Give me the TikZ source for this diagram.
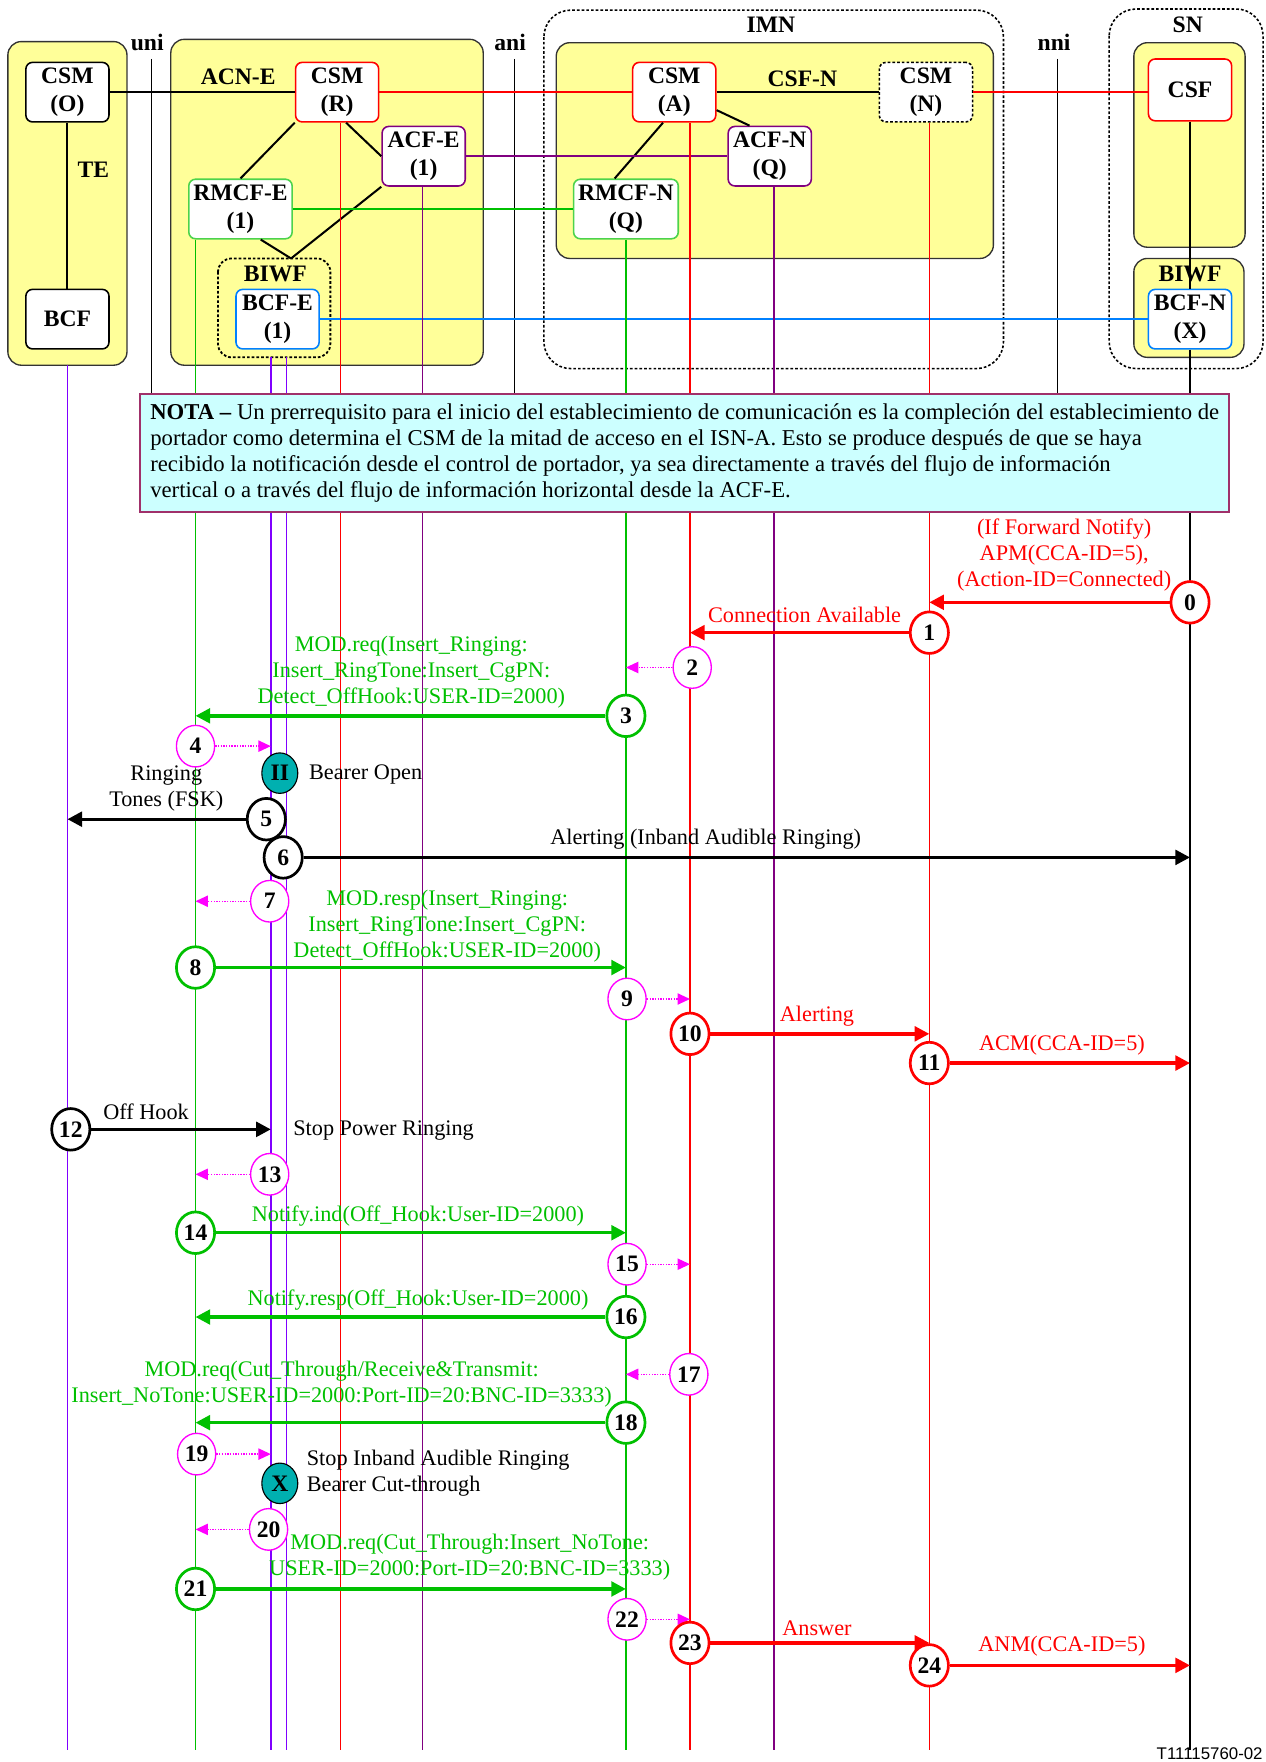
\documentclass[tikz,border=0pt]{standalone}
\usepackage{fontspec}
\setmainfont{Liberation Serif}
\setsansfont{Liberation Sans}
\usetikzlibrary{arrows.meta, shapes.geometric, calc}
\definecolor{flowRed}{HTML}{FF0000}
\definecolor{flowGreen}{HTML}{00C000}
\definecolor{flowViolet}{HTML}{8000FF}
\definecolor{flowPurple}{HTML}{800080}
\definecolor{flowBlue}{HTML}{0080FF}
\definecolor{flowPink}{HTML}{FF00FF}
\definecolor{zoneYellow}{HTML}{FFFF99}
\definecolor{notaFill}{HTML}{CCFFFF}
\definecolor{notaBorder}{HTML}{A0306A}
\definecolor{bearerTeal}{HTML}{00B0B0}

\begin{document}
\begin{tikzpicture}[x=0.5pt, y=-0.5pt,
    feBox/.style={draw, fill=white, rounded corners=3pt, line width=0.7pt,
      minimum width=37pt, minimum height=26.5pt, inner sep=2pt, align=center,
      font=\fontsize{10.5}{12.5}\selectfont\bfseries},
    zoneFill/.style={draw=black!80, fill=zoneYellow, line width=0.6pt, rounded corners=6pt},
    zoneDots/.style={draw, line width=0.7pt, dash pattern=on 1.2pt off 0.9pt, rounded corners=12pt},
    zoneTag/.style={font=\fontsize{10.5}{12.5}\selectfont\bfseries},
    linkLine/.style={line width=0.9pt},
    lifeLine/.style={line width=0.7pt},
    msgArrow/.style={line width=1.5pt, -{Triangle[length=6.5pt, width=6.5pt]}},
    hintArrow/.style={flowPink, line width=0.6pt, dash pattern=on 0.6pt off 0.6pt,
      -{Triangle[length=5.5pt, width=5pt]}},
    stepNum/.style={ellipse, draw, fill=white, line width=1.2pt, minimum width=17pt,
      minimum height=18.5pt, inner sep=0pt, font=\fontsize{10.5}{12}\selectfont\bfseries},
    hintNum/.style={stepNum, draw=flowPink, line width=0.6pt},
    msgText/.style={font=\fontsize{9.9}{11.5}\selectfont, align=center},
    bearerDot/.style={ellipse, draw, fill=bearerTeal, line width=0.5pt, minimum width=16pt,
      minimum height=18pt, inner sep=0pt, font=\fontsize{10.5}{12}\selectfont\bfseries}
  ]
  \useasboundingbox (0,0) rectangle (1126,1568);

  % Terminal equipment
  \draw[zoneFill] (7,37) rectangle (113,325);
  \node[zoneTag] (teTag) at (83,151) {TE};
  \node[feBox] (csmO) at (60,82) {CSM\\(O)};
  \node[feBox] (bcf) at (60,284) {BCF};
  \draw[linkLine] (csmO) -- (bcf);

  % Interfaces
  \node[zoneTag] (uni) at (131,38) {uni};
  \node[zoneTag] (ani) at (454,38) {ani};
  \node[zoneTag] (nni) at (938,38) {nni};
  \coordinate (uniEnd) at (135,350);
  \coordinate (aniEnd) at (458,350);
  \coordinate (nniEnd) at (941,350);
  \draw[lifeLine] (uniEnd |- uni.south) -- (uniEnd);
  \draw[lifeLine] (aniEnd |- ani.south) -- (aniEnd);
  \draw[lifeLine] (nniEnd |- nni.south) -- (nniEnd);

  % ACN-E
  \draw[zoneFill] (152,35) rectangle (430,325);
  \node[zoneTag] (acnTag) at (212,68) {ACN-E};
  \node[feBox, draw=flowRed] (csmR) at (300,82) {CSM\\(R)};
  \node[feBox, draw=flowPurple] (acfE) at (377,139) {ACF-E\\(1)};
  \node[feBox, draw=flowGreen!70] (rmcfE) at (214,186) {RMCF-E\\(1)};
  \draw[line width=0.8pt, dash pattern=on 1.2pt off 0.9pt, rounded corners=6pt] (194,230) rectangle (294,318);
  \node[zoneTag] (biwfETag) at (245,244) {BIWF};
  \node[feBox, draw=flowBlue] (bcfE) at (247,284) {BCF-E\\(1)};
  \coordinate (biwfJoin) at (259,230);
  \draw[linkLine] (csmO) -- (csmR);
  \draw[linkLine] (csmR.south west) -- (rmcfE.north);
  \draw[linkLine] ($(csmR.south)+(8,0)$) -- (acfE.west);
  \draw[linkLine] (acfE.south west) -- (biwfJoin);
  \draw[linkLine] ($(rmcfE.south)+(18,0)$) -- (biwfJoin);

  % IMN
  \draw[zoneDots] (484,9) rectangle (893,328);
  \node[zoneTag] (imnTag) at (686,22) {IMN};
  \draw[zoneFill] (495,38) rectangle (884,230);
  \node[zoneTag] (csfNTag) at (714,70) {CSF-N};
  \node[feBox, draw=flowRed] (csmA) at (600,82) {CSM\\(A)};
  \node[feBox, dash pattern=on 1.2pt off 0.9pt, minimum width=41.5pt] (csmN) at (824,82) {CSM\\(N)};
  \node[feBox, draw=flowPurple] (acfN) at (685,139) {ACF-N\\(Q)};
  \node[feBox, draw=flowGreen!70] (rmcfN) at (557,186) {RMCF-N\\(Q)};
  \draw[linkLine] (csmA) -- (csmN);
  \draw[linkLine] ($(csmA.south)+(-10,0)$) -- ($(rmcfN.north)+(-10,0)$);
  \draw[linkLine] ($(csmA.east)+(0,16)$) -- ($(acfN.north)+(-18,0)$);

  % SN
  \draw[zoneDots] (987,8) rectangle (1124,328);
  \node[zoneTag] (snTag) at (1057,22) {SN};
  \draw[zoneFill] (1009,38) rectangle (1108,220);
  \draw[zoneFill] (1009,230) rectangle (1107,318);
  \node[zoneTag] (biwfNTag) at (1059,244) {BIWF};
  \node[feBox, draw=flowRed, minimum height=27.5pt] (csf) at (1059,80) {CSF};
  \node[feBox, draw=flowBlue] (bcfN) at (1059,284) {BCF-N\\(X)};
  \draw[linkLine] (csf) -- (bcfN);

  % Links between networks
  \draw[linkLine, flowRed] (csmR) -- (csmA);
  \draw[linkLine, flowRed] (csmN.east) -- (csmN.east -| csf.west);
  \draw[linkLine, flowPurple] (acfE) -- (acfN);
  \draw[linkLine, flowGreen] (rmcfE) -- (rmcfN);
  \draw[linkLine, flowBlue] (bcfE) -- (bcfN);

  % Lifelines
  \coordinate (teFoot) at (60,325);
  \coordinate (biwfFoot) at (244,318);
  \coordinate (bcfFoot) at (60,1557);
  \coordinate (rmcfEFoot) at (174,1557);
  \coordinate (bcfEFootA) at (241,1557);
  \coordinate (bcfEFootB) at (255,1557);
  \coordinate (csmRFoot) at (303,1557);
  \coordinate (acfEFoot) at (376,1557);
  \coordinate (rmcfNFoot) at (557,1557);
  \coordinate (csmAFoot) at (614,1557);
  \coordinate (acfNFoot) at (689,1557);
  \coordinate (csmNFoot) at (827,1557);
  \coordinate (bcfNFoot) at (1059,1557);
  \draw[lifeLine, flowViolet] (teFoot) -- (bcfFoot);
  \draw[lifeLine, flowGreen] (rmcfE.south -| rmcfEFoot) -- (rmcfEFoot);
  \draw[lifeLine, flowViolet] (biwfFoot -| bcfEFootA) -- (bcfEFootA);
  \draw[lifeLine, flowViolet] (biwfFoot -| bcfEFootB) -- (bcfEFootB);
  \draw[lifeLine, flowRed] (csmR.south -| csmRFoot) -- (csmRFoot);
  \draw[lifeLine, flowPurple] (acfE.south -| acfEFoot) -- (acfEFoot);
  \draw[lifeLine, flowGreen] (rmcfN.south -| rmcfNFoot) -- (rmcfNFoot);
  \draw[lifeLine, flowRed] (csmA.south -| csmAFoot) -- (csmAFoot);
  \draw[lifeLine, flowPurple] (acfN.south -| acfNFoot) -- (acfNFoot);
  \draw[lifeLine, flowRed] (csmN.south -| csmNFoot) -- (csmNFoot);
  \draw[lifeLine] (bcfN.south -| bcfNFoot) -- (bcfNFoot);

  % Note
  \node[draw=notaBorder, fill=notaFill, line width=0.8pt, anchor=north west,
    minimum width=484.5pt, minimum height=52.5pt, align=left,
    font=\fontsize{10.1}{11.5}\selectfont] (nota) at (124,350)
    {\textbf{NOTA --} Un prerrequisito para el inicio del establecimiento de comunicación es la compleción del establecimiento de\\
     portador como determina el CSM de la mitad de acceso en el ISN-A. Esto se produce después de que se haya\\
     recibido la notificación desde el control de portador, ya sea directamente a través del flujo de información\\
     vertical o a través del flujo de información horizontal desde la ACF-E.};

  % 0 - 3
  \node[stepNum, draw=flowRed] (s0) at (1059,536) {0};
  \coordinate (t0) at (827,536);
  \draw[msgArrow, flowRed] (s0) -- (t0);
  \node[msgText, text=flowRed] (m0) at (947,494) {(If Forward Notify)\\APM(CCA-ID=5),\\(Action-ID=Connected)};

  \node[stepNum, draw=flowRed] (s1) at (827,563) {1};
  \coordinate (t1) at (614,563);
  \draw[msgArrow, flowRed] (s1) -- (t1);
  \node[msgText, text=flowRed] (m1) at (716,547) {Connection Available};

  \node[hintNum] (s2) at (616,594) {2};
  \coordinate (t2) at (557,594);
  \draw[hintArrow] (s2) -- (t2);

  \node[stepNum, draw=flowGreen] (s3) at (557,637) {3};
  \coordinate (t3) at (174,637);
  \draw[msgArrow, flowGreen] (s3) -- (t3);
  \node[msgText, text=flowGreen] (m3) at (366,598) {MOD.req(Insert\_Ringing:\\Insert\_RingTone:Insert\_CgPN:\\Detect\_OffHook:USER-ID=2000)};

  % 4 - 7
  \node[hintNum] (s4) at (174,664) {4};
  \coordinate (t4) at (241,664);
  \draw[hintArrow] (s4) -- (t4);

  \node[bearerDot] (bearerOpen) at (249,688) {II};
  \node[msgText, anchor=west] (bearerOpenTxt) at (268,689) {Bearer Open};

  \node[stepNum] (s5) at (237,729) {5};
  \coordinate (t5) at (60,729);
  \draw[msgArrow] (s5) -- (t5);
  \node[msgText] (m5) at (148,702) {Ringing\\Tones (FSK)};

  \node[stepNum] (s6) at (252,763) {6};
  \coordinate (t6) at (1059,763);
  \draw[msgArrow] (s6) -- (t6);
  \node[msgText] (m6) at (628,747) {Alerting (Inband Audible Ringing)};

  \node[hintNum] (s7) at (240,802) {7};
  \coordinate (t7) at (174,802);
  \draw[hintArrow] (s7) -- (t7);
  \node[msgText, text=flowGreen] (m7) at (398,824) {MOD.resp(Insert\_Ringing:\\Insert\_RingTone:Insert\_CgPN:\\Detect\_OffHook:USER-ID=2000)};

  % 8 - 11
  \node[stepNum, draw=flowGreen] (s8) at (174,861) {8};
  \coordinate (t8) at (557,861);
  \draw[msgArrow, flowGreen] (s8) -- (t8);

  \node[hintNum] (s9) at (558,889) {9};
  \coordinate (t9) at (614,889);
  \draw[hintArrow] (s9) -- (t9);

  \node[stepNum, draw=flowRed] (s10) at (614,920) {10};
  \coordinate (t10) at (827,920);
  \draw[msgArrow, flowRed] (s10) -- (t10);
  \node[msgText, text=flowRed] (m10) at (727,904) {Alerting};

  \node[stepNum, draw=flowRed] (s11) at (827,946) {11};
  \coordinate (t11) at (1059,946);
  \draw[msgArrow, flowRed] (s11) -- (t11);
  \node[msgText, text=flowRed] (m11) at (945,930) {ACM(CCA-ID=5)};

  % 12 - 16
  \node[stepNum] (s12) at (63,1005) {12};
  \coordinate (t12) at (241,1005);
  \draw[msgArrow] (s12) -- (t12);
  \node[msgText] (m12) at (130,989) {Off Hook};
  \node[msgText, anchor=west] (stopRing) at (254,1006) {Stop Power Ringing};

  \node[hintNum] (s13) at (240,1045) {13};
  \coordinate (t13) at (174,1045);
  \draw[hintArrow] (s13) -- (t13);

  \node[stepNum, draw=flowGreen] (s14) at (174,1097) {14};
  \coordinate (t14) at (557,1097);
  \draw[msgArrow, flowGreen] (s14) -- (t14);
  \node[msgText, text=flowGreen] (m14) at (372,1082) {Notify.ind(Off\_Hook:User-ID=2000)};

  \node[hintNum] (s15) at (558,1125) {15};
  \coordinate (t15) at (614,1125);
  \draw[hintArrow] (s15) -- (t15);

  \node[stepNum, draw=flowGreen] (s16) at (557,1172) {16};
  \coordinate (t16) at (174,1172);
  \draw[msgArrow, flowGreen] (s16) -- (t16);
  \node[msgText, text=flowGreen] (m16) at (372,1157) {Notify.resp(Off\_Hook:User-ID=2000)};

  % 17 - 20
  \node[hintNum] (s17) at (613,1223) {17};
  \coordinate (t17) at (557,1223);
  \draw[hintArrow] (s17) -- (t17);

  \node[stepNum, draw=flowGreen] (s18) at (557,1266) {18};
  \coordinate (t18) at (174,1266);
  \draw[msgArrow, flowGreen] (s18) -- (t18);
  \node[msgText, text=flowGreen] (m18) at (304,1232) {MOD.req(Cut\_Through/Receive\&Transmit:\\Insert\_NoTone:USER-ID=2000:Port-ID=20:BNC-ID=3333)};

  \node[hintNum] (s19) at (175,1294) {19};
  \coordinate (t19) at (241,1294);
  \draw[hintArrow] (s19) -- (t19);

  \node[bearerDot] (cutThrough) at (249,1320) {X};
  \node[msgText, anchor=west, align=left] (cutThroughTxt) at (266,1311) {Stop Inband Audible Ringing\\Bearer Cut-through};

  \node[hintNum] (s20) at (239,1361) {20};
  \coordinate (t20) at (174,1361);
  \draw[hintArrow] (s20) -- (t20);

  % 21 - 24
  \node[stepNum, draw=flowGreen] (s21) at (174,1414) {21};
  \coordinate (t21) at (557,1414);
  \draw[msgArrow, flowGreen] (s21) -- (t21);
  \node[msgText, text=flowGreen] (m21) at (418,1386) {MOD.req(Cut\_Through:Insert\_NoTone:\\USER-ID=2000:Port-ID=20:BNC-ID=3333)};

  \node[hintNum] (s22) at (558,1441) {22};
  \coordinate (t22) at (614,1441);
  \draw[hintArrow] (s22) -- (t22);

  \node[stepNum, draw=flowRed] (s23) at (614,1462) {23};
  \coordinate (t23) at (827,1462);
  \draw[msgArrow, flowRed] (s23) -- (t23);
  \node[msgText, text=flowRed] (m23) at (727,1449) {Answer};

  \node[stepNum, draw=flowRed] (s24) at (827,1482) {24};
  \coordinate (t24) at (1059,1482);
  \draw[msgArrow, flowRed] (s24) -- (t24);
  \node[msgText, text=flowRed] (m24) at (945,1465) {ANM(CCA-ID=5)};

  \node[anchor=base east, inner xsep=1pt, font=\sffamily\fontsize{7.5}{9}\selectfont] (figId) at (1126,1566) {T11115760-02};
\end{tikzpicture}
\end{document}
